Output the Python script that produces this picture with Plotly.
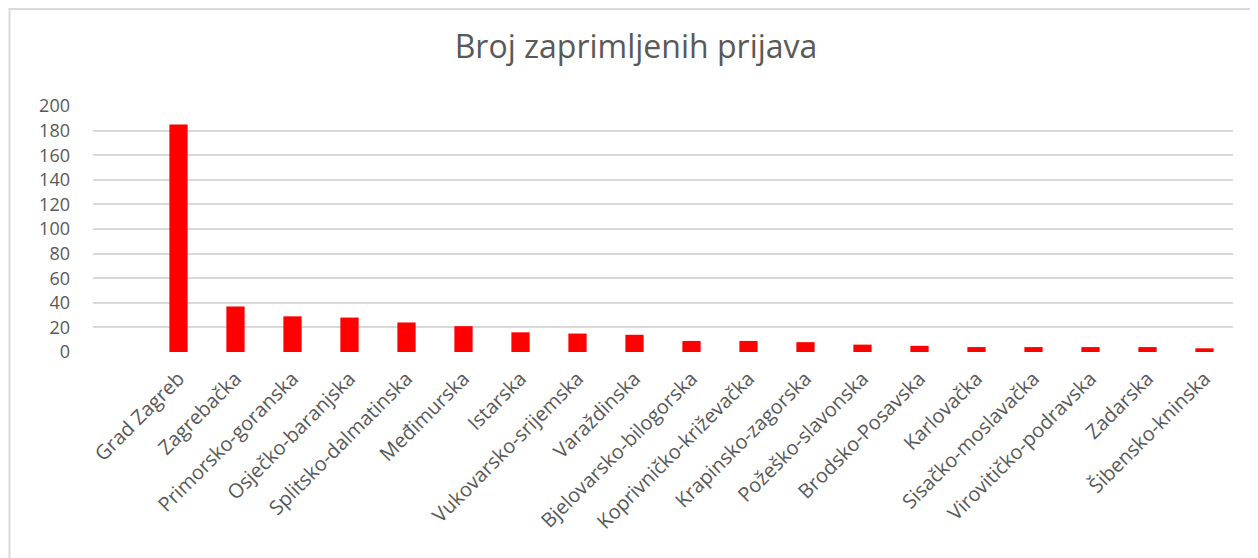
import plotly.graph_objects as go

categories = [" ", "Grad Zagreb", "Zagrebačka", "Primorsko-goranska", "Osječko-baranjska",
              "Splitsko-dalmatinska", "Međimurska", "Istarska", "Vukovarsko-srijemska",
              "Varaždinska", "Bjelovarsko-bilogorska", "Koprivničko-križevačka",
              "Krapinsko-zagorska", "Požeško-slavonska", "Brodsko-Posavska", "Karlovačka",
              "Sisačko-moslavačka", "Virovitičko-podravska", "Zadarska", "Šibensko-kninska"]
values = [None, 185, 37, 29, 28, 24, 21, 16, 15, 14, 9, 9, 8, 6, 5, 4, 4, 4, 4, 3]
y_ticks = list(range(0, 201, 20))
title_text = "Broj zaprimljenih prijava"

# page body has an 8px default margin; the figure is sized/placed to compensate
OFF = 8
W, H = 1258 - OFF, 558 - OFF
ml, mr, mt, mb = 93 - OFF, 25, 106 - OFF, 206
pw = W - ml - mr
ph = H - mt - mb

fig = go.Figure(go.Bar(x=categories, y=values, marker=dict(color="#FF0000", line=dict(width=0))))

txt = "#595959"
fig.update_layout(
    width=W, height=H,
    margin=dict(l=ml, r=mr, t=mt, b=mb),
    paper_bgcolor="white", plot_bgcolor="white",
    bargap=0.68,
    showlegend=False,
    font=dict(family="Open Sans", color=txt),
    title=dict(text=title_text, x=(636 - OFF) / W, xanchor="center", y=1 - (47 - OFF) / H,
               yanchor="middle", yref="container",
               font=dict(size=32, color=txt, family="Open Sans")),
    xaxis=dict(type="category", tickangle=-45, tickfont=dict(size=20, color=txt),
               showgrid=False, showline=False, ticks="", zeroline=False,
               ticklabelstandoff=10),
    yaxis=dict(range=[0, 200], tickvals=y_ticks, tickfont=dict(size=18, color=txt),
               showgrid=True, gridcolor="#d9d9d9", gridwidth=2, zeroline=False,
               showline=False, ticks="", ticklabelstandoff=22),
    shapes=[dict(type="rect", xref="paper", yref="paper",
                 x0=(9.5 - OFF - ml) / pw, x1=(W + 20 - ml) / pw,
                 y0=-(H + 20 - mt - ph) / ph, y1=(H - mb - 1) / ph,
                 line=dict(color="#d9d9d9", width=2), fillcolor="rgba(0,0,0,0)", layer="below")],
)

fig.write_html("out.html")
